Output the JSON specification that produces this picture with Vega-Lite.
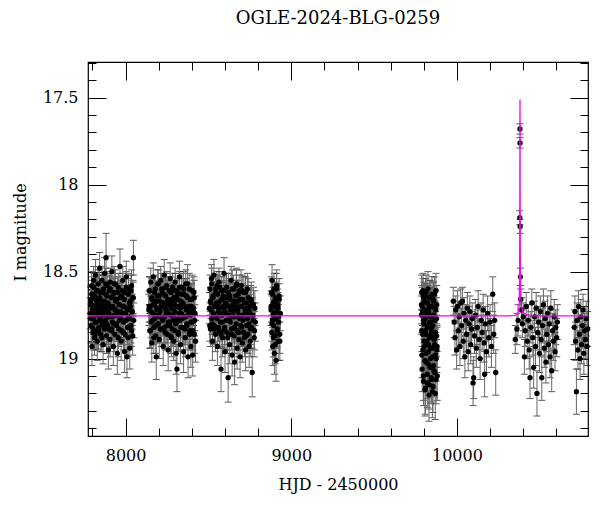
{
"$schema": "https://vega.github.io/schema/vega-lite/v6.json",
"width": 500, "height": 374,
"autosize": {"type": "none"},
"padding": {"left": 88, "top": 62, "right": 12, "bottom": 76},
"background": "white",
"title": {"text": "OGLE-2024-BLG-0259", "font": "DejaVu Serif", "fontSize": 18, "fontWeight": "normal", "color": "black", "baseline": "alphabetic", "offset": 20, "frame": "group", "anchor": "middle"},
"config": {"view": {"stroke": "black", "strokeWidth": 1.2}},
"datasets": {
"obs": [
{"t":7786,"m":18.74,"e":0.09},{"t":7789,"m":18.66,"e":0.08},{"t":7791,"m":18.81,"e":0.10},{"t":7793,"m":18.69,"e":0.08},{"t":7795,"m":18.58,"e":0.08},{"t":7797,"m":18.93,"e":0.11},{"t":7799,"m":18.72,"e":0.09},{"t":7801,"m":18.63,"e":0.08},{"t":7803,"m":18.85,"e":0.10},{"t":7805,"m":18.77,"e":0.09},{"t":7807,"m":18.55,"e":0.08},{"t":7809,"m":18.70,"e":0.09},{"t":7812,"m":18.88,"e":0.10},{"t":7814,"m":18.64,"e":0.08},{"t":7816,"m":18.79,"e":0.09},{"t":7818,"m":18.52,"e":0.09},{"t":7820,"m":18.73,"e":0.09},{"t":7823,"m":18.84,"e":0.10},{"t":7825,"m":18.61,"e":0.08},{"t":7827,"m":18.68,"e":0.08},{"t":7829,"m":18.90,"e":0.11},{"t":7832,"m":18.75,"e":0.09},{"t":7834,"m":18.57,"e":0.08},{"t":7836,"m":18.66,"e":0.09},{"t":7838,"m":18.82,"e":0.10},{"t":7841,"m":18.71,"e":0.09},{"t":7843,"m":18.48,"e":0.09},{"t":7845,"m":18.77,"e":0.09},{"t":7848,"m":18.62,"e":0.08},{"t":7850,"m":18.86,"e":0.10},{"t":7852,"m":18.69,"e":0.09},{"t":7855,"m":18.74,"e":0.09},{"t":7857,"m":18.55,"e":0.08},{"t":7859,"m":18.80,"e":0.10},{"t":7862,"m":18.67,"e":0.09},{"t":7864,"m":18.92,"e":0.11},{"t":7866,"m":18.60,"e":0.08},{"t":7869,"m":18.72,"e":0.09},{"t":7871,"m":18.83,"e":0.10},{"t":7873,"m":18.51,"e":0.09},{"t":7876,"m":18.70,"e":0.09},{"t":7878,"m":18.78,"e":0.09},{"t":7880,"m":18.63,"e":0.08},{"t":7882,"m":18.42,"e":0.14},{"t":7885,"m":18.87,"e":0.10},{"t":7887,"m":18.73,"e":0.09},{"t":7889,"m":18.58,"e":0.08},{"t":7892,"m":18.81,"e":0.10},{"t":7894,"m":18.68,"e":0.09},{"t":7896,"m":18.95,"e":0.11},{"t":7899,"m":18.74,"e":0.09},{"t":7901,"m":18.61,"e":0.08},{"t":7903,"m":18.76,"e":0.09},{"t":7906,"m":18.89,"e":0.10},{"t":7908,"m":18.56,"e":0.08},{"t":7910,"m":18.71,"e":0.09},{"t":7913,"m":18.84,"e":0.10},{"t":7915,"m":18.65,"e":0.09},{"t":7917,"m":18.50,"e":0.09},{"t":7920,"m":18.79,"e":0.09},{"t":7923,"m":18.70,"e":0.09},{"t":7926,"m":18.93,"e":0.11},{"t":7929,"m":18.62,"e":0.08},{"t":7932,"m":18.75,"e":0.09},{"t":7935,"m":18.86,"e":0.10},{"t":7938,"m":18.57,"e":0.08},{"t":7941,"m":18.72,"e":0.09},{"t":7944,"m":18.80,"e":0.10},{"t":7947,"m":18.66,"e":0.09},{"t":7950,"m":18.97,"e":0.12},{"t":7953,"m":18.73,"e":0.09},{"t":7956,"m":18.59,"e":0.08},{"t":7960,"m":18.83,"e":0.10},{"t":7963,"m":18.69,"e":0.09},{"t":7966,"m":18.47,"e":0.10},{"t":7970,"m":18.77,"e":0.09},{"t":7973,"m":18.90,"e":0.11},{"t":7976,"m":18.64,"e":0.09},{"t":7980,"m":18.74,"e":0.09},{"t":7983,"m":18.55,"e":0.08},{"t":7987,"m":18.85,"e":0.10},{"t":7990,"m":18.70,"e":0.09},{"t":7994,"m":18.96,"e":0.12},{"t":7997,"m":18.62,"e":0.09},{"t":8001,"m":18.78,"e":0.10},{"t":8004,"m":18.53,"e":0.09},{"t":8008,"m":18.99,"e":0.12},{"t":8011,"m":18.72,"e":0.09},{"t":8015,"m":18.88,"e":0.11},{"t":8018,"m":18.60,"e":0.09},{"t":8022,"m":18.76,"e":0.10},{"t":8025,"m":18.94,"e":0.12},{"t":8029,"m":18.67,"e":0.09},{"t":8032,"m":18.81,"e":0.10},{"t":8036,"m":18.58,"e":0.09},{"t":8039,"m":18.73,"e":0.10},{"t":8043,"m":18.87,"e":0.11},{"t":8046,"m":18.65,"e":0.09},{"t":8047,"m":18.42,"e":0.10},{"t":8049,"m":18.78,"e":0.10},
{"t":7788,"m":18.68,"e":0.09},{"t":7792,"m":18.77,"e":0.08},{"t":7796,"m":18.63,"e":0.10},{"t":7800,"m":18.82,"e":0.09},{"t":7804,"m":18.71,"e":0.11},{"t":7808,"m":18.59,"e":0.08},{"t":7812,"m":18.74,"e":0.10},{"t":7816,"m":18.86,"e":0.09},{"t":7820,"m":18.66,"e":0.09},{"t":7824,"m":18.79,"e":0.08},{"t":7828,"m":18.70,"e":0.10},{"t":7832,"m":18.61,"e":0.09},{"t":7836,"m":18.84,"e":0.11},{"t":7840,"m":18.73,"e":0.08},{"t":7844,"m":18.65,"e":0.10},{"t":7848,"m":18.78,"e":0.09},{"t":7852,"m":18.69,"e":0.09},{"t":7856,"m":18.88,"e":0.08},{"t":7860,"m":18.62,"e":0.10},{"t":7864,"m":18.75,"e":0.09},{"t":7868,"m":18.81,"e":0.11},{"t":7872,"m":18.67,"e":0.08},{"t":7876,"m":18.72,"e":0.10},{"t":7880,"m":18.57,"e":0.09},{"t":7884,"m":18.80,"e":0.09},{"t":7888,"m":18.64,"e":0.08},{"t":7892,"m":18.76,"e":0.10},{"t":7896,"m":18.83,"e":0.09},{"t":7900,"m":18.70,"e":0.11},{"t":7904,"m":18.60,"e":0.08},
{"t":7908,"m":18.60,"e":0.09},{"t":7912,"m":18.70,"e":0.08},{"t":7916,"m":18.83,"e":0.10},{"t":7920,"m":18.76,"e":0.09},{"t":7924,"m":18.64,"e":0.11},{"t":7928,"m":18.80,"e":0.08},{"t":7932,"m":18.57,"e":0.10},{"t":7936,"m":18.72,"e":0.09},{"t":7940,"m":18.67,"e":0.09},{"t":7944,"m":18.81,"e":0.08},{"t":7948,"m":18.75,"e":0.10},{"t":7952,"m":18.62,"e":0.09},{"t":7956,"m":18.88,"e":0.11},{"t":7960,"m":18.69,"e":0.08},{"t":7964,"m":18.78,"e":0.10},{"t":7968,"m":18.65,"e":0.09},{"t":7972,"m":18.73,"e":0.09},{"t":7976,"m":18.84,"e":0.08},{"t":7980,"m":18.61,"e":0.10},{"t":7984,"m":18.70,"e":0.09},{"t":7988,"m":18.79,"e":0.11},{"t":7992,"m":18.66,"e":0.08},{"t":7996,"m":18.86,"e":0.10},{"t":8000,"m":18.74,"e":0.09},{"t":8004,"m":18.59,"e":0.09},{"t":8008,"m":18.71,"e":0.08},{"t":8012,"m":18.82,"e":0.10},{"t":8016,"m":18.63,"e":0.09},{"t":8020,"m":18.77,"e":0.11},{"t":8024,"m":18.68,"e":0.08},{"t":8028,"m":18.70,"e":0.10},{"t":8032,"m":18.61,"e":0.09},{"t":8036,"m":18.84,"e":0.09},{"t":8040,"m":18.73,"e":0.08},{"t":8044,"m":18.65,"e":0.10},
{"t":8140,"m":18.72,"e":0.09},{"t":8143,"m":18.61,"e":0.08},{"t":8146,"m":18.84,"e":0.10},{"t":8149,"m":18.70,"e":0.09},{"t":8152,"m":18.56,"e":0.08},{"t":8155,"m":18.79,"e":0.09},{"t":8158,"m":18.91,"e":0.11},{"t":8161,"m":18.66,"e":0.09},{"t":8164,"m":18.74,"e":0.09},{"t":8167,"m":18.53,"e":0.08},{"t":8170,"m":18.82,"e":0.10},{"t":8173,"m":18.69,"e":0.09},{"t":8176,"m":18.77,"e":0.09},{"t":8179,"m":18.60,"e":0.08},{"t":8182,"m":18.87,"e":0.10},{"t":8185,"m":18.99,"e":0.13},{"t":8188,"m":18.71,"e":0.09},{"t":8191,"m":18.64,"e":0.08},{"t":8194,"m":18.80,"e":0.10},{"t":8197,"m":18.57,"e":0.08},{"t":8200,"m":18.75,"e":0.09},{"t":8203,"m":18.89,"e":0.11},{"t":8206,"m":18.67,"e":0.09},{"t":8209,"m":18.73,"e":0.09},{"t":8212,"m":18.55,"e":0.08},{"t":8215,"m":18.83,"e":0.10},{"t":8218,"m":18.70,"e":0.09},{"t":8221,"m":18.62,"e":0.08},{"t":8224,"m":18.78,"e":0.09},{"t":8227,"m":18.93,"e":0.11},{"t":8230,"m":18.68,"e":0.09},{"t":8233,"m":18.52,"e":0.09},{"t":8236,"m":18.76,"e":0.09},{"t":8239,"m":18.85,"e":0.10},{"t":8242,"m":18.64,"e":0.08},{"t":8245,"m":18.72,"e":0.09},{"t":8248,"m":18.58,"e":0.08},{"t":8251,"m":18.81,"e":0.10},{"t":8254,"m":18.69,"e":0.09},{"t":8257,"m":18.95,"e":0.12},{"t":8260,"m":18.74,"e":0.09},{"t":8263,"m":18.61,"e":0.08},{"t":8266,"m":18.79,"e":0.09},{"t":8269,"m":18.54,"e":0.09},{"t":8272,"m":18.87,"e":0.10},{"t":8275,"m":18.71,"e":0.09},{"t":8278,"m":18.66,"e":0.09},{"t":8281,"m":18.83,"e":0.10},{"t":8284,"m":18.59,"e":0.08},{"t":8287,"m":18.75,"e":0.09},{"t":8290,"m":18.90,"e":0.11},{"t":8293,"m":18.68,"e":0.09},{"t":8296,"m":18.73,"e":0.09},{"t":8299,"m":18.56,"e":0.08},{"t":8302,"m":18.80,"e":0.10},{"t":8305,"m":18.97,"e":0.12},{"t":8308,"m":18.64,"e":0.09},{"t":8310,"m":19.06,"e":0.13},{"t":8313,"m":18.77,"e":0.09},{"t":8316,"m":18.62,"e":0.08},{"t":8319,"m":18.85,"e":0.10},{"t":8322,"m":18.70,"e":0.09},{"t":8325,"m":18.53,"e":0.09},{"t":8328,"m":18.78,"e":0.09},{"t":8331,"m":18.92,"e":0.11},{"t":8334,"m":18.67,"e":0.09},{"t":8337,"m":18.74,"e":0.09},{"t":8340,"m":18.59,"e":0.08},{"t":8344,"m":18.82,"e":0.10},{"t":8347,"m":18.69,"e":0.09},{"t":8350,"m":18.96,"e":0.12},{"t":8353,"m":18.63,"e":0.09},{"t":8357,"m":18.76,"e":0.09},{"t":8360,"m":18.88,"e":0.11},{"t":8363,"m":18.57,"e":0.08},{"t":8367,"m":18.72,"e":0.09},{"t":8370,"m":18.81,"e":0.10},{"t":8373,"m":18.65,"e":0.09},{"t":8377,"m":18.99,"e":0.12},{"t":8380,"m":18.70,"e":0.09},{"t":8384,"m":18.60,"e":0.09},{"t":8387,"m":18.84,"e":0.10},{"t":8391,"m":18.75,"e":0.10},{"t":8394,"m":18.93,"e":0.12},{"t":8398,"m":18.66,"e":0.09},{"t":8401,"m":18.79,"e":0.10},{"t":8405,"m":18.98,"e":0.12},{"t":8408,"m":18.71,"e":0.10},{"t":8412,"m":18.62,"e":0.09},{"t":8415,"m":18.86,"e":0.11},{"t":8419,"m":18.74,"e":0.10},{"t":8422,"m":18.90,"e":0.12},
{"t":8142,"m":18.70,"e":0.09},{"t":8146,"m":18.61,"e":0.08},{"t":8150,"m":18.84,"e":0.10},{"t":8154,"m":18.73,"e":0.09},{"t":8158,"m":18.65,"e":0.11},{"t":8162,"m":18.78,"e":0.08},{"t":8166,"m":18.69,"e":0.10},{"t":8170,"m":18.88,"e":0.09},{"t":8174,"m":18.62,"e":0.09},{"t":8178,"m":18.75,"e":0.08},{"t":8182,"m":18.81,"e":0.10},{"t":8186,"m":18.67,"e":0.09},{"t":8190,"m":18.72,"e":0.11},{"t":8194,"m":18.57,"e":0.08},{"t":8198,"m":18.80,"e":0.10},{"t":8202,"m":18.64,"e":0.09},{"t":8206,"m":18.76,"e":0.09},{"t":8210,"m":18.83,"e":0.08},{"t":8214,"m":18.70,"e":0.10},{"t":8218,"m":18.60,"e":0.09},{"t":8222,"m":18.68,"e":0.11},{"t":8226,"m":18.77,"e":0.08},{"t":8230,"m":18.63,"e":0.10},{"t":8234,"m":18.82,"e":0.09},{"t":8238,"m":18.71,"e":0.09},{"t":8242,"m":18.59,"e":0.08},{"t":8246,"m":18.74,"e":0.10},{"t":8250,"m":18.86,"e":0.09},{"t":8254,"m":18.66,"e":0.11},{"t":8258,"m":18.79,"e":0.08},
{"t":8262,"m":18.67,"e":0.09},{"t":8266,"m":18.81,"e":0.08},{"t":8270,"m":18.75,"e":0.10},{"t":8274,"m":18.62,"e":0.09},{"t":8278,"m":18.88,"e":0.11},{"t":8282,"m":18.69,"e":0.08},{"t":8286,"m":18.78,"e":0.10},{"t":8290,"m":18.65,"e":0.09},{"t":8294,"m":18.73,"e":0.09},{"t":8298,"m":18.84,"e":0.08},{"t":8302,"m":18.61,"e":0.10},{"t":8306,"m":18.70,"e":0.09},{"t":8310,"m":18.79,"e":0.11},{"t":8314,"m":18.66,"e":0.08},{"t":8318,"m":18.86,"e":0.10},{"t":8322,"m":18.74,"e":0.09},{"t":8326,"m":18.59,"e":0.09},{"t":8330,"m":18.71,"e":0.08},{"t":8334,"m":18.82,"e":0.10},{"t":8338,"m":18.63,"e":0.09},{"t":8342,"m":18.77,"e":0.11},{"t":8346,"m":18.68,"e":0.08},{"t":8350,"m":18.60,"e":0.10},{"t":8354,"m":18.70,"e":0.09},{"t":8358,"m":18.83,"e":0.09},{"t":8362,"m":18.76,"e":0.08},{"t":8366,"m":18.64,"e":0.10},{"t":8370,"m":18.80,"e":0.09},{"t":8374,"m":18.57,"e":0.11},{"t":8378,"m":18.72,"e":0.08},{"t":8382,"m":18.74,"e":0.10},{"t":8386,"m":18.86,"e":0.09},{"t":8390,"m":18.66,"e":0.09},{"t":8394,"m":18.79,"e":0.08},{"t":8398,"m":18.70,"e":0.10},{"t":8402,"m":18.61,"e":0.09},{"t":8406,"m":18.84,"e":0.11},{"t":8410,"m":18.73,"e":0.08},{"t":8414,"m":18.65,"e":0.10},{"t":8418,"m":18.78,"e":0.09},
{"t":8506,"m":18.71,"e":0.09},{"t":8509,"m":18.60,"e":0.08},{"t":8512,"m":18.83,"e":0.10},{"t":8515,"m":18.68,"e":0.09},{"t":8518,"m":18.54,"e":0.08},{"t":8521,"m":18.77,"e":0.09},{"t":8524,"m":18.90,"e":0.11},{"t":8527,"m":18.65,"e":0.09},{"t":8530,"m":18.74,"e":0.09},{"t":8533,"m":18.52,"e":0.09},{"t":8536,"m":18.81,"e":0.10},{"t":8539,"m":18.70,"e":0.09},{"t":8542,"m":18.86,"e":0.10},{"t":8545,"m":18.62,"e":0.08},{"t":8548,"m":18.76,"e":0.09},{"t":8551,"m":18.58,"e":0.08},{"t":8554,"m":18.93,"e":0.11},{"t":8557,"m":18.69,"e":0.09},{"t":8560,"m":18.73,"e":0.09},{"t":8563,"m":18.56,"e":0.08},{"t":8566,"m":18.84,"e":0.10},{"t":8569,"m":18.67,"e":0.09},{"t":8572,"m":18.79,"e":0.09},{"t":8576,"m":19.06,"e":0.13},{"t":8579,"m":18.61,"e":0.08},{"t":8582,"m":18.75,"e":0.09},{"t":8585,"m":18.88,"e":0.11},{"t":8588,"m":18.64,"e":0.09},{"t":8591,"m":18.71,"e":0.09},{"t":8594,"m":18.51,"e":0.09},{"t":8597,"m":18.82,"e":0.10},{"t":8600,"m":18.96,"e":0.12},{"t":8603,"m":18.68,"e":0.09},{"t":8606,"m":18.74,"e":0.09},{"t":8609,"m":18.59,"e":0.08},{"t":8612,"m":18.85,"e":0.10},{"t":8615,"m":18.70,"e":0.09},{"t":8619,"m":19.11,"e":0.14},{"t":8622,"m":18.63,"e":0.09},{"t":8625,"m":18.78,"e":0.09},{"t":8628,"m":18.92,"e":0.11},{"t":8631,"m":18.66,"e":0.09},{"t":8634,"m":18.72,"e":0.09},{"t":8637,"m":18.55,"e":0.08},{"t":8640,"m":18.83,"e":0.10},{"t":8643,"m":18.98,"e":0.12},{"t":8646,"m":18.69,"e":0.09},{"t":8649,"m":18.76,"e":0.09},{"t":8652,"m":18.60,"e":0.08},{"t":8655,"m":18.87,"e":0.10},{"t":8658,"m":19.02,"e":0.13},{"t":8661,"m":18.71,"e":0.09},{"t":8664,"m":18.64,"e":0.09},{"t":8667,"m":18.80,"e":0.10},{"t":8670,"m":18.57,"e":0.08},{"t":8673,"m":18.94,"e":0.12},{"t":8676,"m":18.73,"e":0.09},{"t":8679,"m":18.67,"e":0.09},{"t":8682,"m":18.85,"e":0.10},{"t":8685,"m":18.61,"e":0.09},{"t":8688,"m":18.77,"e":0.09},{"t":8691,"m":18.99,"e":0.12},{"t":8694,"m":18.70,"e":0.09},{"t":8697,"m":18.58,"e":0.09},{"t":8700,"m":18.82,"e":0.10},{"t":8704,"m":18.91,"e":0.11},{"t":8707,"m":18.66,"e":0.09},{"t":8710,"m":18.75,"e":0.09},{"t":8714,"m":18.62,"e":0.09},{"t":8717,"m":18.88,"e":0.11},{"t":8721,"m":18.72,"e":0.10},{"t":8724,"m":18.95,"e":0.12},{"t":8728,"m":18.68,"e":0.10},{"t":8731,"m":18.81,"e":0.10},{"t":8735,"m":18.60,"e":0.09},{"t":8738,"m":18.86,"e":0.11},{"t":8742,"m":18.74,"e":0.10},{"t":8746,"m":18.93,"e":0.12},{"t":8750,"m":18.70,"e":0.10},{"t":8754,"m":18.83,"e":0.11},{"t":8758,"m":18.66,"e":0.10},{"t":8764,"m":19.08,"e":0.14},{"t":8770,"m":18.78,"e":0.10},{"t":8776,"m":18.88,"e":0.11},
{"t":8508,"m":18.81,"e":0.09},{"t":8512,"m":18.67,"e":0.08},{"t":8516,"m":18.72,"e":0.10},{"t":8520,"m":18.57,"e":0.09},{"t":8524,"m":18.80,"e":0.11},{"t":8528,"m":18.64,"e":0.08},{"t":8532,"m":18.76,"e":0.10},{"t":8536,"m":18.83,"e":0.09},{"t":8540,"m":18.70,"e":0.09},{"t":8544,"m":18.60,"e":0.08},{"t":8548,"m":18.68,"e":0.10},{"t":8552,"m":18.77,"e":0.09},{"t":8556,"m":18.63,"e":0.11},{"t":8560,"m":18.82,"e":0.08},{"t":8564,"m":18.71,"e":0.10},{"t":8568,"m":18.59,"e":0.09},{"t":8572,"m":18.74,"e":0.09},{"t":8576,"m":18.86,"e":0.08},{"t":8580,"m":18.66,"e":0.10},{"t":8584,"m":18.79,"e":0.09},{"t":8588,"m":18.70,"e":0.11},{"t":8592,"m":18.61,"e":0.08},{"t":8596,"m":18.84,"e":0.10},{"t":8600,"m":18.73,"e":0.09},{"t":8604,"m":18.65,"e":0.09},{"t":8608,"m":18.78,"e":0.08},{"t":8612,"m":18.69,"e":0.10},{"t":8616,"m":18.88,"e":0.09},{"t":8620,"m":18.62,"e":0.11},{"t":8624,"m":18.75,"e":0.08},
{"t":8628,"m":18.64,"e":0.09},{"t":8632,"m":18.79,"e":0.08},{"t":8636,"m":18.71,"e":0.10},{"t":8640,"m":18.86,"e":0.09},{"t":8644,"m":18.60,"e":0.11},{"t":8648,"m":18.73,"e":0.08},{"t":8652,"m":18.67,"e":0.10},{"t":8656,"m":18.82,"e":0.09},{"t":8660,"m":18.76,"e":0.09},{"t":8664,"m":18.69,"e":0.08},{"t":8668,"m":18.58,"e":0.10},{"t":8672,"m":18.84,"e":0.09},{"t":8676,"m":18.72,"e":0.11},{"t":8680,"m":18.63,"e":0.08},{"t":8684,"m":18.89,"e":0.10},{"t":8688,"m":18.75,"e":0.09},{"t":8692,"m":18.66,"e":0.09},{"t":8696,"m":18.81,"e":0.08},{"t":8700,"m":18.70,"e":0.10},{"t":8704,"m":18.61,"e":0.09},{"t":8708,"m":18.78,"e":0.11},{"t":8712,"m":18.85,"e":0.08},{"t":8716,"m":18.68,"e":0.10},{"t":8720,"m":18.74,"e":0.09},{"t":8724,"m":18.62,"e":0.09},{"t":8728,"m":18.87,"e":0.08},{"t":8732,"m":18.71,"e":0.10},{"t":8736,"m":18.77,"e":0.09},{"t":8740,"m":18.65,"e":0.11},{"t":8744,"m":18.80,"e":0.08},{"t":8748,"m":18.73,"e":0.10},{"t":8752,"m":18.90,"e":0.09},{"t":8756,"m":18.67,"e":0.09},{"t":8760,"m":18.82,"e":0.10},{"t":8766,"m":18.75,"e":0.10},{"t":8772,"m":18.69,"e":0.10},{"t":8778,"m":18.84,"e":0.11},{"t":8780,"m":18.71,"e":0.10},{"t":8783,"m":18.79,"e":0.11},
{"t":8878,"m":18.72,"e":0.09},{"t":8880,"m":18.62,"e":0.09},{"t":8882,"m":18.85,"e":0.10},{"t":8884,"m":18.55,"e":0.09},{"t":8886,"m":18.78,"e":0.09},{"t":8888,"m":18.93,"e":0.11},{"t":8890,"m":18.68,"e":0.09},{"t":8892,"m":18.75,"e":0.09},{"t":8894,"m":18.81,"e":0.10},{"t":8896,"m":18.60,"e":0.09},{"t":8898,"m":18.97,"e":0.12},{"t":8900,"m":18.70,"e":0.09},{"t":8902,"m":18.87,"e":0.10},{"t":8904,"m":18.65,"e":0.09},{"t":8906,"m":18.77,"e":0.09},{"t":8908,"m":19.01,"e":0.12},{"t":8910,"m":18.73,"e":0.09},{"t":8912,"m":18.58,"e":0.09},{"t":8915,"m":18.83,"e":0.10},{"t":8918,"m":18.69,"e":0.09},{"t":8921,"m":18.90,"e":0.11},{"t":8924,"m":18.76,"e":0.10},{"t":8927,"m":18.64,"e":0.10},{"t":8930,"m":18.86,"e":0.11},{"t":8934,"m":18.74,"e":0.10},
{"t":8879,"m":18.70,"e":0.09},{"t":8883,"m":18.80,"e":0.10},{"t":8887,"m":18.63,"e":0.09},{"t":8891,"m":18.88,"e":0.11},{"t":8895,"m":18.74,"e":0.09},{"t":8899,"m":18.67,"e":0.10},{"t":8903,"m":18.92,"e":0.11},{"t":8907,"m":18.77,"e":0.09},{"t":8911,"m":18.60,"e":0.09},{"t":8915,"m":18.84,"e":0.10},{"t":8919,"m":18.71,"e":0.09},{"t":8923,"m":18.79,"e":0.10},{"t":8927,"m":18.66,"e":0.09},{"t":8931,"m":18.90,"e":0.11},
{"t":9785,"m":18.75,"e":0.11},{"t":9787,"m":18.62,"e":0.10},{"t":9789,"m":18.98,"e":0.13},{"t":9791,"m":18.70,"e":0.11},{"t":9793,"m":18.86,"e":0.12},{"t":9795,"m":18.61,"e":0.10},{"t":9797,"m":19.10,"e":0.14},{"t":9799,"m":18.78,"e":0.11},{"t":9801,"m":18.66,"e":0.10},{"t":9803,"m":18.93,"e":0.12},{"t":9805,"m":18.72,"e":0.11},{"t":9807,"m":19.18,"e":0.15},{"t":9809,"m":18.84,"e":0.12},{"t":9811,"m":18.64,"e":0.10},{"t":9813,"m":19.02,"e":0.13},{"t":9815,"m":18.76,"e":0.11},{"t":9817,"m":18.90,"e":0.12},{"t":9819,"m":18.68,"e":0.11},{"t":9821,"m":19.14,"e":0.14},{"t":9823,"m":18.81,"e":0.12},{"t":9825,"m":18.60,"e":0.10},{"t":9827,"m":18.96,"e":0.13},{"t":9829,"m":18.73,"e":0.11},{"t":9831,"m":19.21,"e":0.15},{"t":9833,"m":18.87,"e":0.12},{"t":9835,"m":18.65,"e":0.10},{"t":9837,"m":19.05,"e":0.14},{"t":9839,"m":18.79,"e":0.11},{"t":9841,"m":18.94,"e":0.13},{"t":9843,"m":18.70,"e":0.11},{"t":9845,"m":19.12,"e":0.14},{"t":9847,"m":18.83,"e":0.12},{"t":9849,"m":18.63,"e":0.10},{"t":9851,"m":18.99,"e":0.13},{"t":9853,"m":18.75,"e":0.11},{"t":9855,"m":19.16,"e":0.15},{"t":9857,"m":18.88,"e":0.12},{"t":9859,"m":18.67,"e":0.11},{"t":9861,"m":19.07,"e":0.14},{"t":9863,"m":18.78,"e":0.11},{"t":9865,"m":18.92,"e":0.13},{"t":9867,"m":18.71,"e":0.11},{"t":9869,"m":19.20,"e":0.15},{"t":9871,"m":18.85,"e":0.12},{"t":9873,"m":18.61,"e":0.10},{"t":9875,"m":19.00,"e":0.13},{"t":9877,"m":18.77,"e":0.12},{"t":9879,"m":18.95,"e":0.13},{"t":9881,"m":19.10,"e":0.14},
{"t":9786,"m":18.69,"e":0.11},{"t":9788,"m":18.84,"e":0.12},{"t":9790,"m":19.06,"e":0.13},{"t":9792,"m":18.73,"e":0.11},{"t":9794,"m":18.95,"e":0.12},{"t":9796,"m":18.64,"e":0.10},{"t":9798,"m":19.13,"e":0.14},{"t":9800,"m":18.80,"e":0.11},{"t":9802,"m":18.90,"e":0.12},{"t":9804,"m":18.67,"e":0.10},{"t":9806,"m":19.01,"e":0.13},{"t":9808,"m":18.77,"e":0.11},{"t":9810,"m":19.17,"e":0.15},{"t":9812,"m":18.86,"e":0.12},{"t":9814,"m":18.62,"e":0.10},{"t":9816,"m":18.97,"e":0.13},{"t":9818,"m":18.74,"e":0.11},{"t":9820,"m":19.09,"e":0.14},{"t":9822,"m":18.82,"e":0.12},{"t":9824,"m":18.68,"e":0.10},{"t":9826,"m":19.03,"e":0.13},{"t":9828,"m":18.92,"e":0.12},{"t":9830,"m":18.71,"e":0.11},{"t":9832,"m":19.15,"e":0.14},{"t":9834,"m":18.79,"e":0.11},{"t":9836,"m":18.88,"e":0.12},{"t":9838,"m":18.65,"e":0.10},{"t":9840,"m":19.00,"e":0.13},{"t":9842,"m":18.76,"e":0.11},{"t":9844,"m":19.11,"e":0.14},{"t":9846,"m":18.85,"e":0.12},{"t":9848,"m":18.70,"e":0.11},{"t":9850,"m":18.94,"e":0.12},{"t":9852,"m":19.19,"e":0.15},{"t":9854,"m":18.81,"e":0.12},{"t":9856,"m":18.66,"e":0.10},{"t":9858,"m":19.04,"e":0.13},{"t":9860,"m":18.75,"e":0.11},{"t":9862,"m":18.89,"e":0.12},{"t":9864,"m":18.63,"e":0.10},{"t":9866,"m":19.08,"e":0.14},{"t":9868,"m":18.78,"e":0.11},{"t":9870,"m":18.98,"e":0.13},{"t":9872,"m":18.72,"e":0.11},{"t":9874,"m":19.12,"e":0.14},{"t":9876,"m":18.87,"e":0.12},{"t":9878,"m":18.69,"e":0.11},{"t":9880,"m":18.93,"e":0.12},
{"t":9978,"m":18.67,"e":0.08},{"t":9983,"m":18.79,"e":0.09},{"t":9988,"m":18.88,"e":0.10},{"t":9993,"m":18.72,"e":0.08},{"t":9998,"m":18.95,"e":0.11},{"t":10003,"m":18.70,"e":0.09},{"t":10008,"m":18.84,"e":0.10},{"t":10013,"m":18.76,"e":0.09},{"t":10018,"m":18.93,"e":0.11},{"t":10023,"m":18.68,"e":0.08},{"t":10028,"m":18.81,"e":0.10},{"t":10033,"m":18.67,"e":0.08},{"t":10038,"m":18.90,"e":0.10},{"t":10043,"m":18.74,"e":0.09},{"t":10048,"m":18.99,"e":0.12},{"t":10053,"m":18.78,"e":0.09},{"t":10058,"m":18.86,"e":0.10},{"t":10063,"m":18.71,"e":0.09},{"t":10068,"m":18.96,"e":0.11},{"t":10073,"m":18.80,"e":0.10},{"t":10078,"m":18.73,"e":0.09},{"t":10083,"m":18.92,"e":0.11},{"t":10088,"m":18.83,"e":0.10},{"t":10092,"m":18.77,"e":0.09},{"t":10097,"m":19.14,"e":0.13},{"t":10101,"m":19.11,"e":0.12},{"t":10106,"m":18.87,"e":0.10},{"t":10111,"m":18.75,"e":0.09},{"t":10117,"m":18.94,"e":0.11},{"t":10122,"m":18.82,"e":0.10},{"t":10128,"m":18.70,"e":0.09},{"t":10134,"m":18.89,"e":0.11},{"t":10140,"m":19.00,"e":0.12},{"t":10146,"m":18.78,"e":0.10},{"t":10152,"m":18.85,"e":0.10},{"t":10158,"m":18.72,"e":0.09},{"t":10164,"m":18.91,"e":0.11},{"t":10167,"m":19.09,"e":0.13},{"t":10172,"m":18.80,"e":0.10},{"t":10178,"m":18.96,"e":0.12},{"t":10185,"m":18.74,"e":0.10},{"t":10192,"m":18.88,"e":0.11},{"t":10200,"m":18.79,"e":0.10},{"t":10208,"m":18.93,"e":0.12},{"t":10216,"m":18.63,"e":0.10},{"t":10222,"m":18.86,"e":0.11},{"t":10228,"m":18.78,"e":0.10},{"t":10234,"m":19.08,"e":0.13},
{"t":10352,"m":18.89,"e":0.08},{"t":10362,"m":18.83,"e":0.09},{"t":10369,"m":18.78,"e":0.09},{"t":10379.4,"m":18.19,"e":0.04},{"t":10380.2,"m":17.68,"e":0.03},{"t":10380.7,"m":17.76,"e":0.03},{"t":10381.6,"m":18.24,"e":0.04},{"t":10383,"m":18.53,"e":0.05},{"t":10385.5,"m":18.66,"e":0.06},
{"t":10390,"m":18.72,"e":0.07},{"t":10395,"m":18.80,"e":0.08},{"t":10400,"m":18.76,"e":0.08},{"t":10407,"m":18.99,"e":0.10},{"t":10412,"m":18.84,"e":0.09},{"t":10418,"m":18.70,"e":0.08},{"t":10424,"m":18.90,"e":0.10},{"t":10430,"m":18.78,"e":0.09},{"t":10436,"m":18.95,"e":0.11},{"t":10441,"m":19.11,"e":0.12},{"t":10446,"m":18.82,"e":0.09},{"t":10452,"m":18.68,"e":0.08},{"t":10458,"m":18.88,"e":0.10},{"t":10463,"m":19.05,"e":0.12},{"t":10468,"m":18.76,"e":0.09},{"t":10474,"m":18.93,"e":0.11},{"t":10478,"m":18.71,"e":0.09},{"t":10483,"m":19.20,"e":0.13},{"t":10488,"m":18.85,"e":0.10},{"t":10493,"m":18.79,"e":0.09},{"t":10498,"m":18.97,"e":0.11},{"t":10503,"m":18.73,"e":0.09},{"t":10508,"m":18.89,"e":0.10},{"t":10512,"m":19.11,"e":0.13},{"t":10517,"m":18.81,"e":0.10},{"t":10522,"m":18.69,"e":0.09},{"t":10527,"m":18.94,"e":0.11},{"t":10532,"m":18.77,"e":0.10},{"t":10537,"m":19.02,"e":0.12},{"t":10542,"m":18.86,"e":0.10},{"t":10547,"m":18.74,"e":0.10},{"t":10552,"m":18.92,"e":0.11},{"t":10557,"m":18.80,"e":0.10},{"t":10562,"m":18.99,"e":0.12},{"t":10567,"m":18.71,"e":0.10},{"t":10572,"m":19.07,"e":0.12},{"t":10577,"m":18.84,"e":0.10},{"t":10582,"m":18.90,"e":0.11},{"t":10587,"m":18.76,"e":0.10},{"t":10592,"m":18.96,"e":0.11},{"t":10597,"m":18.82,"e":0.10},{"t":10602,"m":18.88,"e":0.11},{"t":10606,"m":18.79,"e":0.10},
{"t":10708,"m":18.82,"e":0.10},{"t":10712,"m":18.73,"e":0.09},{"t":10716,"m":18.90,"e":0.11},{"t":10721,"m":19.19,"e":0.13},{"t":10725,"m":18.78,"e":0.10},{"t":10730,"m":18.95,"e":0.11},{"t":10734,"m":18.70,"e":0.09},{"t":10739,"m":18.86,"e":0.10},{"t":10743,"m":19.00,"e":0.12},{"t":10748,"m":18.76,"e":0.10},{"t":10752,"m":18.92,"e":0.11},{"t":10757,"m":18.81,"e":0.10},{"t":10761,"m":18.72,"e":0.09},{"t":10766,"m":18.97,"e":0.12},{"t":10770,"m":18.84,"e":0.10},{"t":10775,"m":18.89,"e":0.11},{"t":10780,"m":18.77,"e":0.10},{"t":10785,"m":18.93,"e":0.11},{"t":10789,"m":18.83,"e":0.10}
],
"model": [
{"t":7773,"m":18.755},{"t":10300,"m":18.755},{"t":10350,"m":18.752},{"t":10365,"m":18.745},{"t":10372,"m":18.73},{"t":10376,"m":18.68},{"t":10378,"m":18.55},{"t":10379,"m":18.3},{"t":10379.6,"m":18.0},{"t":10380.1,"m":17.7},{"t":10380.5,"m":17.51},{"t":10380.9,"m":17.7},{"t":10381.4,"m":18.0},{"t":10382,"m":18.3},{"t":10383,"m":18.52},{"t":10385,"m":18.64},{"t":10390,"m":18.7},{"t":10400,"m":18.735},{"t":10420,"m":18.748},{"t":10460,"m":18.754},{"t":10791,"m":18.755}
]
},
"layer": [
{"data": {"name": "obs"},
 "mark": {"type": "errorbar", "ticks": {"size": 7, "color": "#111111", "strokeWidth": 1}, "rule": {"color": "#666666", "strokeWidth": 1}},
 "encoding": {
  "x": {"field": "t", "type": "quantitative", "scale": {"domain": [7773, 10791], "nice": false, "zero": false}, "axis": null},
  "y": {"field": "m", "type": "quantitative", "scale": {"domain": [17.295, 19.445], "reverse": true, "nice": false, "zero": false}, "axis": null},
  "yError": {"field": "e"}
 }},
{"data": {"name": "obs"},
 "mark": {"type": "circle", "size": 28, "color": "black", "opacity": 1},
 "encoding": {
  "x": {"field": "t", "type": "quantitative", "axis": {"orient": "bottom", "values": [8000, 9000, 10000], "format": "d", "labelFont": "DejaVu Serif", "labelFontSize": 16, "labelColor": "black", "labelPadding": 11, "ticks": false, "domain": false, "grid": false, "title": "HJD - 2450000", "titleFont": "DejaVu Serif", "titleFontSize": 16, "titleFontWeight": "normal", "titleColor": "black", "titleY": 53, "titleBaseline": "alphabetic"}},
  "y": {"field": "m", "type": "quantitative", "axis": {"orient": "left", "values": [17.5, 18, 18.5, 19], "format": "~g", "labelFont": "DejaVu Serif", "labelFontSize": 16, "labelColor": "black", "labelPadding": 10, "ticks": false, "domain": false, "grid": false, "title": "I magnitude", "titleFont": "DejaVu Serif", "titleFontSize": 16, "titleFontWeight": "normal", "titleColor": "black", "titleX": -63, "titleY": 170, "titleAngle": -90, "titleBaseline": "alphabetic", "titleAlign": "center"}}
 }},
{"data": {"name": "model"},
 "mark": {"type": "line", "color": "#ff00ff", "strokeWidth": 1.3},
 "encoding": {
  "x": {"field": "t", "type": "quantitative", "axis": {"orient": "bottom", "values": [8000, 9000, 10000], "labels": false, "domain": false, "grid": false, "ticks": true, "tickSize": -18, "tickColor": "black", "tickWidth": 1, "title": null}},
  "y": {"field": "m", "type": "quantitative", "axis": {"orient": "left", "values": [17.5, 18, 18.5, 19], "labels": false, "domain": false, "grid": false, "ticks": true, "tickSize": -18, "tickColor": "black", "tickWidth": 1, "title": null}}
 }},
{"data": {"name": "model"},
 "mark": {"type": "point", "opacity": 0},
 "encoding": {
  "x": {"field": "t", "type": "quantitative", "axis": {"orient": "bottom", "values": [7800, 8000, 8200, 8400, 8600, 8800, 9000, 9200, 9400, 9600, 9800, 10000, 10200, 10400, 10600], "labels": false, "domain": false, "grid": false, "ticks": true, "tickSize": -8, "tickColor": "black", "tickWidth": 1, "title": null}},
  "y": {"field": "m", "type": "quantitative", "axis": {"orient": "left", "values": [17.3, 17.4, 17.5, 17.6, 17.7, 17.8, 17.9, 18.0, 18.1, 18.2, 18.3, 18.4, 18.5, 18.6, 18.7, 18.8, 18.9, 19.0, 19.1, 19.2, 19.3, 19.4], "labels": false, "domain": false, "grid": false, "ticks": true, "tickSize": -8, "tickColor": "black", "tickWidth": 1, "title": null}}
 }},
{"data": {"name": "model"},
 "mark": {"type": "point", "opacity": 0},
 "encoding": {
  "x": {"field": "t", "type": "quantitative", "axis": {"orient": "top", "values": [8000, 9000, 10000], "labels": false, "domain": false, "grid": false, "ticks": true, "tickSize": -18, "tickColor": "black", "tickWidth": 1, "title": null}},
  "y": {"field": "m", "type": "quantitative", "axis": {"orient": "right", "values": [17.5, 18, 18.5, 19], "labels": false, "domain": false, "grid": false, "ticks": true, "tickSize": -18, "tickColor": "black", "tickWidth": 1, "title": null}}
 }},
{"data": {"name": "model"},
 "mark": {"type": "point", "opacity": 0},
 "encoding": {
  "x": {"field": "t", "type": "quantitative", "axis": {"orient": "top", "values": [7800, 8000, 8200, 8400, 8600, 8800, 9000, 9200, 9400, 9600, 9800, 10000, 10200, 10400, 10600], "labels": false, "domain": false, "grid": false, "ticks": true, "tickSize": -8, "tickColor": "black", "tickWidth": 1, "title": null}},
  "y": {"field": "m", "type": "quantitative", "axis": {"orient": "right", "values": [17.3, 17.4, 17.5, 17.6, 17.7, 17.8, 17.9, 18.0, 18.1, 18.2, 18.3, 18.4, 18.5, 18.6, 18.7, 18.8, 18.9, 19.0, 19.1, 19.2, 19.3, 19.4], "labels": false, "domain": false, "grid": false, "ticks": true, "tickSize": -8, "tickColor": "black", "tickWidth": 1, "title": null}}
 }}
],
"resolve": {"axis": {"x": "independent", "y": "independent"}}
}
